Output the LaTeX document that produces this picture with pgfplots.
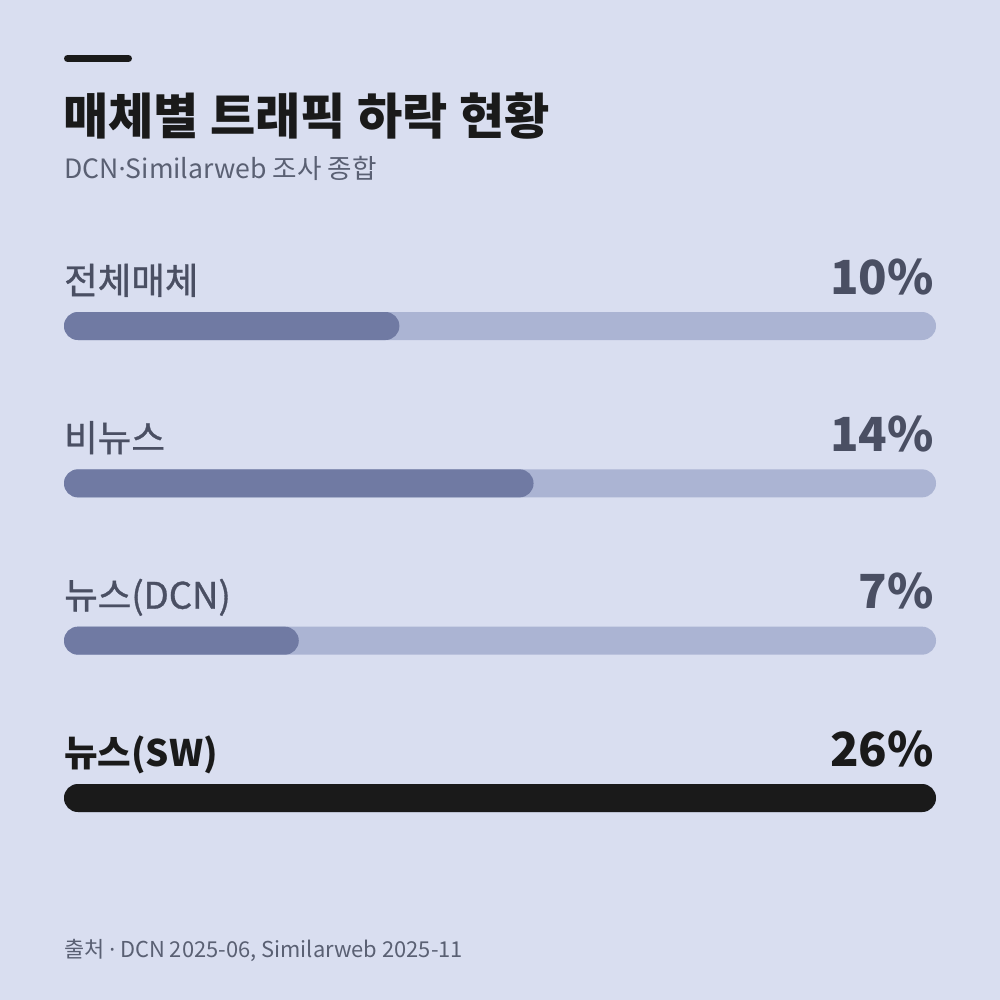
\documentclass[border=0pt]{standalone}
\usepackage{fontspec}
\setmainfont{Noto Sans CJK KR}
\newfontfamily\medfont[FakeBold=0.9]{Noto Sans CJK KR}
\newfontfamily\latin{Noto Sans}
\usepackage{pgfplots}
\pgfplotsset{compat=1.18}

\definecolor{bg}{HTML}{D9DEF0}
\definecolor{track}{HTML}{ABB4D3}
\definecolor{fillc}{HTML}{707AA3}
\definecolor{labc}{HTML}{4A4F63}
\definecolor{subc}{HTML}{5A6073}
\definecolor{ink}{HTML}{1A1A1A}

\tikzset{
  lab/.style={anchor=base west, inner sep=0, yshift=32bp, text=labc, font=\fontsize{36.5bp}{40bp}\medfont},
  val/.style={anchor=base east, inner sep=0, yshift=32bp, xshift=-2bp, text=labc, font=\fontsize{47bp}{52bp}\selectfont\bfseries},
}

\begin{document}
\begin{tikzpicture}
% canvas
\fill[bg] (0,0) rectangle (1000bp,-1000bp);
\draw[ink, line width=7bp, line cap=round] (67.5bp,-58.5bp) -- (128.5bp,-58.5bp);

\node[anchor=base west, inner sep=0, text=ink, font=\fontsize{49.2bp}{56bp}\selectfont\bfseries]
  at (63bp,-134bp) {매체별 트래픽 하락 현황};
\node[anchor=base west, inner sep=0, text=subc, font=\fontsize{26.6bp}{30bp}\selectfont]
  at (64bp,-178bp) {DCN{\latin ·}Similarweb 조사 종합};
\node[anchor=base west, inner sep=0, text=subc, font=\fontsize{21.9bp}{25bp}\selectfont]
  at (64bp,-957bp) {출처 {\latin ·} DCN 2025-06, Similarweb 2025-11};

\begin{axis}[
    at={(64bp,-326bp)}, anchor=north west,
    scale only axis, width=872bp, height=472bp,
    xmin=0, xmax=26, ymin=0, ymax=3,
    y dir=reverse,
    hide axis, clip=false,
    xbar, bar width=28bp, bar shift=0pt,
    every axis plot/.append style={draw=none, rounded corners=13.9bp},
  ]
% track (full scale = 26)
\addplot[fill=track] coordinates {(26,0) (26,1) (26,2) (26,3)};
% values
\addplot[fill=fillc] coordinates {(10,0) (14,1) (7,2)};
\addplot[fill=ink] coordinates {(26,3)};

\node[lab] at (axis cs:0,0) {전체매체};
\node[val] at (axis cs:26,0) {10\%};
\node[lab] at (axis cs:0,1) {비뉴스};
\node[val] at (axis cs:26,1) {14\%};
\node[lab] at (axis cs:0,2) {뉴스(DCN)};
\node[val] at (axis cs:26,2) {7\%};
\node[lab, text=ink, font=\fontsize{36.5bp}{40bp}\selectfont\bfseries] at (axis cs:0,3) {뉴스(SW)};
\node[val, text=ink] at (axis cs:26,3) {26\%};
\end{axis}
\end{tikzpicture}
\end{document}
